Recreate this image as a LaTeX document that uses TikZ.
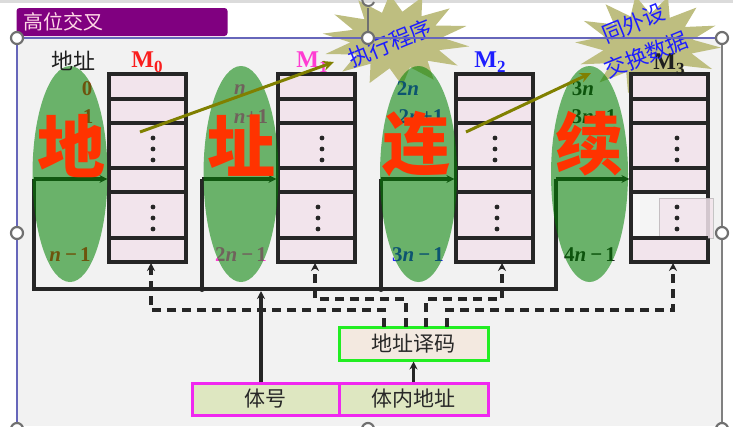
\documentclass[tikz,border=0pt]{standalone}
\usepackage{fontspec}
\setmainfont{Liberation Serif}
\newfontfamily\cjk{Noto Sans CJK SC}
\usetikzlibrary{arrows.meta}
\definecolor{linec}{HTML}{262626}
\definecolor{bankfill}{RGB}{242,228,236}
\definecolor{slidebg}{RGB}{242,242,242}
\definecolor{ellc}{RGB}{0,128,0}
\definecolor{bigred}{RGB}{255,51,0}
\definecolor{mred}{RGB}{250,30,30}
\definecolor{mmag}{RGB}{255,60,210}
\definecolor{mblue}{RGB}{30,30,255}
\definecolor{mblack}{RGB}{30,30,30}
\definecolor{starc}{RGB}{190,190,128}
\definecolor{olivec}{RGB}{128,128,0}
\definecolor{decfill}{RGB}{243,233,224}
\definecolor{decdraw}{RGB}{34,238,34}
\definecolor{fieldfill}{RGB}{222,231,193}
\definecolor{fielddraw}{RGB}{240,40,240}
\definecolor{titlec}{RGB}{128,0,128}
\definecolor{titletext}{RGB}{255,215,230}
\definecolor{handlec}{RGB}{112,112,112}
\definecolor{textc}{RGB}{40,40,40}
\begin{document}
\begin{tikzpicture}[x=1pt,y=-1pt,
  bank/.style={draw=linec,line width=3.2pt,fill=bankfill,minimum width=77pt,minimum height=188pt,inner sep=0pt},
  rowline/.style={draw=linec,line width=3.2pt},
  bus/.style={draw=linec,line width=3.2pt},
  dashln/.style={draw=linec,line width=3.2pt,dash pattern=on 9pt off 6pt},
  tip/.style={-{Stealth[length=8pt,width=8pt]}},
  rowlab/.style={font=\fontsize{21}{21}\selectfont\bfseries,inner sep=0pt},
  mlab/.style={font=\fontsize{24}{24}\selectfont\bfseries,inner sep=0pt},
  bigch/.style={text=bigred,font=\cjk\bfseries\fontsize{68}{68}\selectfont,inner sep=0pt},
  startext/.style={text=mblue,font=\cjk\fontsize{22}{22}\selectfont,inner sep=0pt,rotate=22},
  decbox/.style={draw=decdraw,line width=3pt,fill=decfill,minimum width=149pt,minimum height=33pt,inner sep=0pt,text=textc,font=\cjk\fontsize{21}{21}\selectfont},
  fieldbox/.style={draw=fielddraw,line width=3pt,fill=fieldfill,minimum height=32pt,inner sep=0pt,text=textc,font=\cjk\fontsize{21}{21}\selectfont},
  handle/.style={draw=handlec,fill=white,line width=2.2pt},
  olivearrow/.style={draw=olivec,line width=3pt,-{Stealth[length=11pt,width=10pt]}}
]
\useasboundingbox (0,0) rectangle (733,426);
\fill[white] (0,0) rectangle (733,426);
\fill[black!14] (0,0) rectangle (733,3);
% slide area
\fill[slidebg] (17,38) rectangle (722,426);
% title
\node[fill=titlec,rounded corners=3pt,minimum width=211pt,minimum height=28pt,inner sep=0pt] (title) at (122,22) {};
\node[anchor=west,text=titletext,font=\cjk\fontsize{20}{20}\selectfont,inner sep=0pt] (titletxt) at (23,22) {高位交叉};
% starbursts
\fill[starc] plot[samples at={0,...,27},variable=\t] ({396+cos(\t*12.857+8)*(1-0.38*mod(\t,2))*74},{40+sin(\t*12.857+8)*(1-0.38*mod(\t,2))*46}) -- cycle;
\fill[starc] plot[samples at={0,...,27},variable=\t] ({648+cos(\t*12.857+3)*(1-0.38*mod(\t,2))*73},{45+sin(\t*12.857+3)*(1-0.38*mod(\t,2))*50}) -- cycle;
% memory banks
\node[bank] (m0) at (147.5,168) {};
\node[bank] (m1) at (316.5,168) {};
\node[bank] (m2) at (494.5,168) {};
\node[bank] (m3) at (669.5,168) {};
\fill[black!4] (632.6,193.6) rectangle (706.4,236.4);
\fill[bankfill,opacity=0.85] (659,198) rectangle (713,238);
\draw[black!40,opacity=0.5,line width=0.8pt] (659,198) rectangle (713,238);
\foreach \xl/\xr in {109/186,278/355,456/533,631/708}
  \foreach \yy in {99,123,168,192,238}
    \draw[rowline] (\xl,\yy) -- (\xr,\yy);
\foreach \xa/\xb in {153/153,322/318,495/497,677/677}{
  \foreach \yy in {138,149,160} \fill[linec] (\xa,\yy) circle (2.4pt);
  \foreach \yy in {207,218,229} \fill[linec] (\xb,\yy) circle (2.4pt);
}
% address bus (solid)
\coordinate (g1) at (34,179);
\coordinate (g2) at (202,179);
\coordinate (g3) at (381,179);
\coordinate (g4) at (556,179);
\coordinate (j1) at (34,289);
\coordinate (j2) at (202,289);
\coordinate (j3) at (381,289);
\coordinate (j4) at (556,289);
\draw[bus,line join=miter] (g1) -- (j1) -- (j4) -- (g4);
\draw[bus] (j2) -- (g2);
\draw[bus] (j3) -- (g3);
\fill[linec] (j2) circle (3pt);
\fill[linec] (j3) circle (3pt);
\draw[bus,tip] (g1) -- (g1 -| m0.west);
\draw[bus,tip] (g2) -- (g2 -| m1.west);
\draw[bus,tip] (g3) -- (g3 -| m2.west);
\draw[bus,tip] (g4) -- (g4 -| m3.west);
% decoder and fields
\node[decbox] (dec) at (413.5,343.5) {地址译码};
\node[fieldbox,minimum width=147pt] (tihao) at (265.5,399) {体号};
\node[fieldbox,minimum width=149pt] (tinei) at (413.5,399) {体内地址};
% dashed select lines
\coordinate (p1) at (384,327);
\coordinate (p2) at (406,327);
\coordinate (p3) at (426,327);
\coordinate (p4) at (447,327);
\coordinate (a0) at (151,263);
\coordinate (a1) at (315,263);
\coordinate (a2) at (502,263);
\coordinate (a3) at (673,263);
\coordinate (q1) at (384,310);
\coordinate (q2) at (406,299);
\coordinate (q3) at (426,299);
\coordinate (q4) at (447,310);
\draw[dashln,tip] (p1) -- (q1) -- (q1 -| a0) -- (a0);
\draw[dashln,tip] (p2) -- (q2) -- (q2 -| a1) -- (a1);
\draw[dashln,tip] (p3) -- (q3) -- (q3 -| a2) -- (a2);
\draw[dashln,tip] (p4) -- (q4) -- (q4 -| a3) -- (a3);
% solid arrows from fields
\coordinate (b1) at (261,382);
\coordinate (b2) at (261,291);
\draw[bus,tip] (b1) -- (b2);
\draw[bus,tip] (tinei.north) -- (dec.south);
% row labels
\node[rowlab,text=mred] (l00) at (87,89) {0};
\node[rowlab,text=mred] (l01) at (88,117) {1};
\node[rowlab,text=mred] (l0n) at (70,255) {\textit{n}\hspace{4pt}−\hspace{3pt}1};
\node[rowlab,text=mmag] (l10) at (240,90) {\textit{n}};
\node[rowlab,text=mmag] (l11) at (251,117) {\textit{n}+1};
\node[rowlab,text=mmag] (l1n) at (241,255) {2\textit{n}\hspace{4pt}−\hspace{3pt}1};
\node[rowlab,text=mblue] (l20) at (408,89) {2\textit{n}};
\node[rowlab,text=mblue] (l21) at (421,117) {2\textit{n}+1};
\node[rowlab,text=mblue] (l2n) at (418,255) {3\textit{n}\hspace{4pt}−\hspace{3pt}1};
\node[rowlab,text=mblack] (l30) at (583,89) {3\textit{n}};
\node[rowlab,text=mblack] (l31) at (594,117) {3\textit{n}+1};
\node[rowlab,text=mblack] (l3n) at (590,255) {4\textit{n}\hspace{4pt}−\hspace{3pt}1};
% ellipses
\fill[ellc,opacity=0.56] (70,174) ellipse [x radius=37.5, y radius=108];
\fill[ellc,opacity=0.56] (241,174) ellipse [x radius=37.5, y radius=108];
\fill[ellc,opacity=0.56] (418.5,174) ellipse [x radius=38.5, y radius=108];
\fill[ellc,opacity=0.56] (589.5,174) ellipse [x radius=38.5, y radius=108];
% big characters
\node[bigch] (c1) at (71,146) {地};
\node[bigch] (c2) at (241,146) {址};
\node[bigch] (c3) at (416,144) {连};
\node[bigch] (c4) at (589,144) {续};
% headers
\node[text=mblack,font=\cjk\fontsize{22}{22}\selectfont,inner sep=0pt] (addr) at (73,61) {地址};
\node[mlab,text=mred] (h0) at (147,62) {M{\fontsize{17}{17}\selectfont\raisebox{-5pt}{0}}};
\node[mlab,text=mmag] (h1) at (312,62) {M{\fontsize{17}{17}\selectfont\raisebox{-5pt}{1}}};
\node[mlab,text=mblue] (h2) at (490,62) {M{\fontsize{17}{17}\selectfont\raisebox{-5pt}{2}}};
\node[mlab,text=mblack] (h3) at (669,64) {M{\fontsize{17}{17}\selectfont\raisebox{-5pt}{3}}};
% olive arrows
\coordinate (o1s) at (140,132);
\coordinate (o1e) at (334,62);
\coordinate (o2s) at (466,132);
\coordinate (o2e) at (591,73);
\draw[olivearrow] (o1s) -- (o1e);
\draw[olivearrow] (o2s) -- (o2e);
% star texts
\node[startext] (s1) at (390,43) {执行程序};
\node[startext,align=center,font=\cjk\fontsize{22}{34}\selectfont] (s2) at (640,39) {同外设\\交换数据};
% selection frame and handles
\draw[black!45!blue!60!white,line width=1.2pt] (17,426) -- (17,38) -- (722,38);
\draw[black!50,line width=1.2pt] (722,38) -- (722,426);
\draw[handlec,line width=1.6pt] (368,8) -- (368,38);
\draw[handlec,line width=2pt] (374,2) arc[start angle=20,end angle=300,radius=6];
\foreach \hx/\hy in {17/38,368/38,722/38,17/233,722/233,17/429,368/429,722/429}
  \draw[handle] (\hx,\hy) circle (6pt);
\end{tikzpicture}
\end{document}
